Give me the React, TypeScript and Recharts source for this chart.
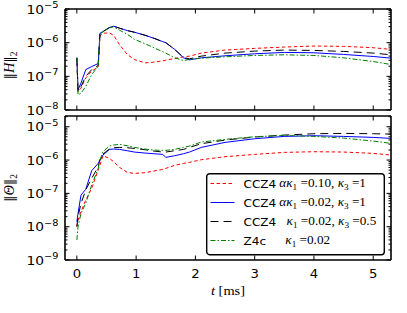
import React from "react";
import { LineChart, Line, XAxis, YAxis, Legend } from "recharts";

// time [ms]
const times = [0, 0.02, 0.07, 0.15, 0.25, 0.36, 0.39, 0.44, 0.55, 0.62, 0.72, 0.85, 0.97, 1.15, 1.3, 1.45, 1.5, 1.65, 1.8, 1.9, 2.1, 2.5, 3.0, 3.5, 4.0, 4.5, 5.0, 5.3];

// log10 ||H||_2
const hRedLog = [-6.45, -7.45, -7.35, -7.05, -6.85, -6.72, -5.8, -5.72, -5.71, -5.78, -6.06, -6.35, -6.5, -6.6, -6.58, -6.54, -6.52, -6.47, -6.42, -6.4, -6.31, -6.22, -6.17, -6.13, -6.1, -6.11, -6.15, -6.2];
const hBlueLog = [-6.45, -7.4, -7.2, -6.8, -6.71, -6.62, -5.72, -5.67, -5.55, -5.51, -5.57, -5.64, -5.69, -5.78, -5.87, -5.97, -6.0, -6.2, -6.45, -6.51, -6.45, -6.39, -6.33, -6.29, -6.3, -6.35, -6.41, -6.46];
const hBlackLog = [-6.45, -7.45, -7.3, -7.0, -6.8, -6.68, -5.72, -5.67, -5.55, -5.51, -5.57, -5.64, -5.69, -5.78, -5.87, -5.97, -6.0, -6.2, -6.44, -6.48, -6.4, -6.31, -6.25, -6.22, -6.23, -6.26, -6.31, -6.36];
const hGreenLog = [-6.45, -7.55, -7.5, -7.3, -6.95, -6.7, -5.75, -5.68, -5.56, -5.53, -5.63, -5.75, -5.9, -6.03, -6.15, -6.27, -6.31, -6.45, -6.53, -6.5, -6.46, -6.42, -6.38, -6.36, -6.38, -6.45, -6.56, -6.65];

// log10 ||Theta||_2
const thRedLog = [-8.0, -7.8, -7.55, -7.2, -6.85, -6.3, -6.15, -5.87, -5.95, -6.05, -6.22, -6.37, -6.4, -6.38, -6.33, -6.28, -6.25, -6.16, -6.1, -6.07, -5.99, -5.9, -5.83, -5.77, -5.75, -5.76, -5.8, -5.85];
const thBlueLog = [-7.85, -7.6, -7.05, -6.88, -6.32, -6.1, -6.0, -5.85, -5.68, -5.67, -5.68, -5.72, -5.76, -5.79, -5.81, -5.83, -5.92, -5.87, -5.81, -5.76, -5.62, -5.47, -5.36, -5.29, -5.27, -5.29, -5.32, -5.35];
const thBlackLog = [-8.0, -7.7, -7.3, -6.9, -6.55, -6.2, -6.0, -5.82, -5.67, -5.63, -5.62, -5.63, -5.65, -5.69, -5.73, -5.76, -5.76, -5.72, -5.68, -5.62, -5.51, -5.4, -5.31, -5.25, -5.21, -5.2, -5.21, -5.22];
const thGreenLog = [-8.4, -8.0, -7.6, -7.3, -6.75, -6.25, -6.0, -5.75, -5.58, -5.55, -5.53, -5.57, -5.62, -5.67, -5.7, -5.71, -5.71, -5.68, -5.62, -5.58, -5.46, -5.38, -5.3, -5.26, -5.29, -5.34, -5.43, -5.5];

const xTicks = [0, 1, 2, 3, 4, 5];
const xDomain = [-0.2, 5.3];
const hDomain = [1e-8, 1e-5];
const thDomain = [1e-9, 2.1e-5];

type Series = { key: string; color: string; dash?: string; code: string; mathX: number; kappaAlpha: boolean; k1: string; k3?: string };
const series: Series[] = [
  { key: "red", color: "#ff0000", dash: "3.5 2.5", code: "CCZ4", mathX: 73.3, kappaAlpha: true, k1: "0.10", k3: "1" },
  { key: "blue", color: "#0000ff", dash: undefined, code: "CCZ4", mathX: 73.3, kappaAlpha: true, k1: "0.02", k3: "1" },
  { key: "black", color: "#000000", dash: "8 5", code: "CCZ4", mathX: 80.6, kappaAlpha: false, k1: "0.02", k3: "0.5" },
  { key: "green", color: "#008000", dash: "5 2 1.5 2", code: "Z4c", mathX: 79.3, kappaAlpha: false, k1: "0.02" },
];

const hData = times.map((t, i) => ({
  t,
  red: Math.pow(10, hRedLog[i]),
  blue: Math.pow(10, hBlueLog[i]),
  black: Math.pow(10, hBlackLog[i]),
  green: Math.pow(10, hGreenLog[i]),
}));
const thData = times.map((t, i) => ({
  t,
  red: Math.pow(10, thRedLog[i]),
  blue: Math.pow(10, thBlueLog[i]),
  black: Math.pow(10, thBlackLog[i]),
  green: Math.pow(10, thGreenLog[i]),
}));

function logTicks(lo: number, hi: number, max: number) {
  const out: number[] = [];
  for (let d = lo; d <= hi; d++) {
    for (let m = 1; m <= 9; m++) {
      const v = m * Math.pow(10, d);
      if (v <= max * 1.0001) out.push(v);
    }
  }
  return out;
}
const hTicks = logTicks(-8, -5, 1e-5);
const thTicks = logTicks(-9, -5, 2.1e-5);

const SANS = "DejaVu Sans";
const SERIF = "Liberation Serif";
const STRETCH = 1.15;

const makeXTick = (showLabel: boolean, dir: number) => (props: any) => {
  const { x, y, payload } = props;
  return (
    <g>
      <line x1={x} y1={y} x2={x} y2={y + dir * 4.5} stroke="#000" strokeWidth={1} />
      {showLabel && (
        <text transform={`translate(${x} ${y + 17.5}) scale(${STRETCH} 1)`} textAnchor="middle" fontFamily={SANS} fontSize={11.5} fill="#000">
          {payload.value}
        </text>
      )}
    </g>
  );
};

const makeYTick = (showLabel: boolean, dir: number) => (props: any) => {
  const { x, y, payload } = props;
  const v = payload.value as number;
  const exp = Math.floor(Math.log10(v) + 1e-9);
  const mant = v / Math.pow(10, exp);
  const major = Math.abs(mant - 1) < 1e-6;
  const len = major ? 4.5 : 2.5;
  return (
    <g>
      <line x1={x} y1={y} x2={x + dir * len} y2={y} stroke="#000" strokeWidth={1} />
      {showLabel && major && (
        <text transform={`translate(${x - 6.5} ${y + 4.5}) scale(${STRETCH} 1)`} textAnchor="end" fontFamily={SANS} fontSize={12} fill="#000">
          <tspan>10</tspan>
          <tspan dy={-5.5} fontSize={8.5}>{"\u2212" + Math.abs(exp)}</tspan>
        </text>
      )}
    </g>
  );
};

const makeYLabel = (sym: string, dy: number) => (props: any) => {
  const vb = props.viewBox || { x: 64, y: 0, width: 1, height: 100 };
  const cx = vb.x + vb.width - 51;
  const cy = vb.y + vb.height / 2 + dy;
  return (
    <text transform={`translate(${cx} ${cy}) rotate(-90)`} textAnchor="middle" fontFamily={SERIF} fontSize={14.5} fill="#000">
      <tspan fontFamily="DejaVu Serif" fontSize={13}>{"\u2016"}</tspan>
      <tspan fontStyle="italic">{sym}</tspan>
      <tspan fontFamily="DejaVu Serif" fontSize={13}>{"\u2016"}</tspan>
      <tspan dy={3} fontSize={9.5}>2</tspan>
    </text>
  );
};

const XLabel = (props: any) => {
  const vb = props.viewBox || { x: 65, y: 260, width: 326, height: 1 };
  const cx = vb.x + vb.width / 2;
  return (
    <text transform={`translate(${cx} ${vb.y + 35}) scale(${STRETCH} 1)`} textAnchor="middle" fontFamily={SERIF} fontSize={12.5} fill="#000">
      <tspan fontStyle="italic">t</tspan>
      <tspan>{" [ms]"}</tspan>
    </text>
  );
};

const LegendBox = () => (
  <svg width={180} height={84} style={{ display: "block", overflow: "visible" }}>
    <rect x={0.7} y={0.7} width={177.6} height={81} rx={3} ry={3} fill="#ffffff" stroke="#000" strokeWidth={1.4} />
    {series.map((s, i) => {
      const cy = 10.5 + i * 19;
      return (
        <g key={s.key}>
          <line x1={4.5} x2={28.5} y1={cy} y2={cy} stroke={s.color} strokeWidth={1} strokeDasharray={s.dash} />
          <text transform={`translate(37.5 ${cy + 4}) scale(${STRETCH} 1)`} fontFamily={SANS} fontSize={10.5} fill="#000">
            {s.code}
          </text>
          <text transform={`translate(${s.mathX} ${cy + 3.5}) scale(${STRETCH} 1)`} fontFamily={SERIF} fontSize={11.5} fill="#000">
            {s.kappaAlpha && <tspan fontStyle="italic">{"\u03b1"}</tspan>}
            <tspan fontStyle="italic">{"\u03ba"}</tspan>
            <tspan dy={2.5} fontSize={8}>1</tspan>
            <tspan dy={-2.5}>{" =" + s.k1 + (s.k3 ? ", " : "")}</tspan>
            {s.k3 && <tspan fontStyle="italic">{"\u03ba"}</tspan>}
            {s.k3 && <tspan dy={2.5} fontSize={8}>3</tspan>}
            {s.k3 && <tspan dy={-2.5}>{" =" + s.k3}</tspan>}
          </text>
        </g>
      );
    })}
  </svg>
);

const FRAME = { stroke: "#000", strokeWidth: 1.6 };

function Panel(props: { data: any[]; height: number; margin: any; yDomain: number[]; yTicks: number[]; showX: boolean; sym: string; labelDy: number; legend?: boolean }) {
  const { data, height, margin, yDomain, yTicks, showX, sym, labelDy, legend } = props;
  return (
    <LineChart width={407} height={height} data={data} margin={margin}>
      <XAxis xAxisId="b" dataKey="t" type="number" domain={xDomain} ticks={xTicks} allowDataOverflow orientation="bottom" height={1} tickSize={0} tickMargin={0} tickLine={false} axisLine={FRAME} tick={makeXTick(showX, -1)} interval={0} label={showX ? XLabel : undefined} />
      <XAxis xAxisId="t" dataKey="t" type="number" domain={xDomain} ticks={xTicks} allowDataOverflow orientation="top" height={1} tickSize={0} tickMargin={0} tickLine={false} axisLine={FRAME} tick={makeXTick(false, 1)} interval={0} />
      <YAxis yAxisId="l" type="number" scale="log" domain={yDomain} ticks={yTicks} allowDataOverflow orientation="left" width={1} tickSize={0} tickMargin={0} tickLine={false} axisLine={FRAME} tick={makeYTick(true, 1)} interval={0} label={makeYLabel(sym, labelDy)} />
      <YAxis yAxisId="r" type="number" scale="log" domain={yDomain} ticks={yTicks} allowDataOverflow orientation="right" width={1} tickSize={0} tickMargin={0} tickLine={false} axisLine={FRAME} tick={makeYTick(false, -1)} interval={0} />
      {series.map((s) => (
        <Line key={s.key} xAxisId="b" yAxisId="l" type="linear" dataKey={s.key} stroke={s.color} strokeWidth={1} strokeDasharray={s.dash} dot={false} activeDot={false} isAnimationActive={false} />
      ))}
      {legend && (
        <Legend layout="horizontal" verticalAlign="middle" align="center" content={() => <LegendBox />} wrapperStyle={{ position: "absolute", left: 206, top: 60, width: 180, height: 84 }} />
      )}
    </LineChart>
  );
}

export default function App() {
  return (
    <div style={{ position: "absolute", left: 0, top: 0, width: 407, height: 313, background: "#fff" }}>
      <div style={{ position: "absolute", left: 0, top: 0, width: 407, height: 120 }}>
        <Panel data={hData} height={120} margin={{ top: 8, right: 15, bottom: 9, left: 64 }} yDomain={hDomain} yTicks={hTicks} showX={false} sym="H" labelDy={6} />
      </div>
      <div style={{ position: "absolute", left: 0, top: 113, width: 407, height: 200 }}>
        <Panel data={thData} height={200} margin={{ top: 2, right: 15, bottom: 52, left: 64 }} yDomain={thDomain} yTicks={thTicks} showX={true} sym={"\u0398"} labelDy={0} legend />
      </div>
    </div>
  );
}
